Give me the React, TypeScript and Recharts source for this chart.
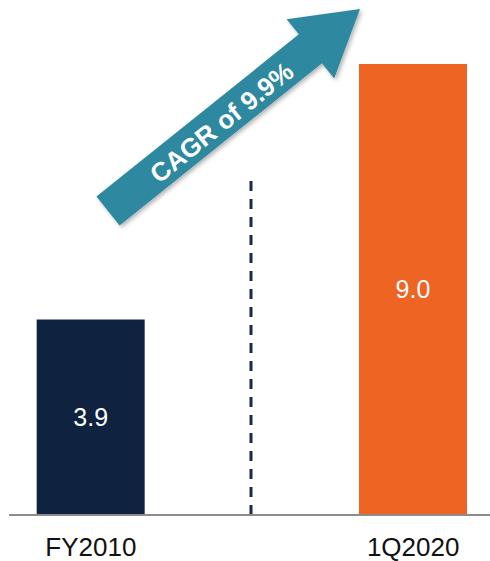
import React from 'react';
import { BarChart, Bar, XAxis, YAxis, Cell, LabelList } from 'recharts';

const periods = ['FY2010', '1Q2020'];
const values = [3.9, 9.0];
const barColors = ['#0f2341', '#ee6423'];
const cagrText = 'CAGR of 9.9%';

const data = periods.map((p, i) => ({ x: i, period: p, value: values[i] }));

// arrow annotation geometry
const tail = { x: 108, y: 211 };
const tip = { x: 360, y: 9 };
const shaftHalf = 18.5;
const headHalf = 38;
const headLen = 63.6;

const CagrArrow = () => {
  const dx = tip.x - tail.x;
  const dy = tip.y - tail.y;
  const len = Math.sqrt(dx * dx + dy * dy);
  const ux = dx / len, uy = dy / len;
  const nx = -uy, ny = ux; // perpendicular
  const bx = tip.x - headLen * ux, by = tip.y - headLen * uy;
  const pts = [
    [tail.x - shaftHalf * nx, tail.y - shaftHalf * ny],
    [bx - shaftHalf * nx, by - shaftHalf * ny],
    [bx - headHalf * nx, by - headHalf * ny],
    [tip.x, tip.y],
    [bx + headHalf * nx, by + headHalf * ny],
    [bx + shaftHalf * nx, by + shaftHalf * ny],
    [tail.x + shaftHalf * nx, tail.y + shaftHalf * ny],
  ].map(p => p.join(',')).join(' ');
  const angle = (Math.atan2(dy, dx) * 180) / Math.PI;
  const cx = tail.x + 144 * ux + 2 * nx;
  const cy = tail.y + 144 * uy + 2 * ny;
  return (
    <g>
      <defs>
        <filter id="arrowShadow" x="-10%" y="-10%" width="130%" height="130%">
          <feDropShadow dx="2" dy="2" stdDeviation="2" floodColor="#000" floodOpacity="0.3" />
        </filter>
      </defs>
      <line x1={251} y1={181} x2={251} y2={522} stroke="#1a2b47" strokeWidth={3} strokeDasharray="10 8" />
      <polygon points={pts} fill="#2f88a0" filter="url(#arrowShadow)" />
      <text
        x={0}
        y={0}
        transform={`translate(${cx},${cy}) rotate(${angle})`}
        textAnchor="middle"
        dominantBaseline="central"
        fill="#ffffff"
        fontSize={26}
        fontWeight="bold"
        fontFamily="Liberation Sans, Arial, sans-serif"
      >
        {cagrText}
      </text>
    </g>
  );
};

const App: React.FC = () => {
  return (
    <div style={{ position: 'absolute', left: 0, top: 0, width: 490, height: 561, background: '#fff' }}>
      <BarChart
        width={490}
        height={561}
        data={data}
        margin={{ top: 64, right: 0, left: 9, bottom: 0 }}
      >
        <XAxis
          dataKey="x"
          type="number"
          domain={[-0.2539, 1.2384]}
          ticks={[0, 1]}
          tickFormatter={(v) => periods[v] ?? ''}
          height={46}
          tickLine={false}
          tickSize={0}
          tickMargin={23}
          axisLine={{ stroke: '#8c8c8c', strokeWidth: 2 }}
          tick={{ fill: '#111', fontSize: 26, fontFamily: 'Liberation Sans, Arial, sans-serif' }}
        />
        <YAxis hide domain={[0, 9]} />
        <Bar dataKey="value" barSize={108} isAnimationActive={false}>
          {data.map((d, i) => (
            <Cell key={d.period} fill={barColors[i]} />
          ))}
          <LabelList
            dataKey="value"
            position="center"
            fill="#ffffff"
            fontSize={25}
            fontFamily="Liberation Sans, Arial, sans-serif"
            formatter={(v: any) => Number(v).toFixed(1)}
          />
        </Bar>
        <CagrArrow />
      </BarChart>
    </div>
  );
};

export default App;
